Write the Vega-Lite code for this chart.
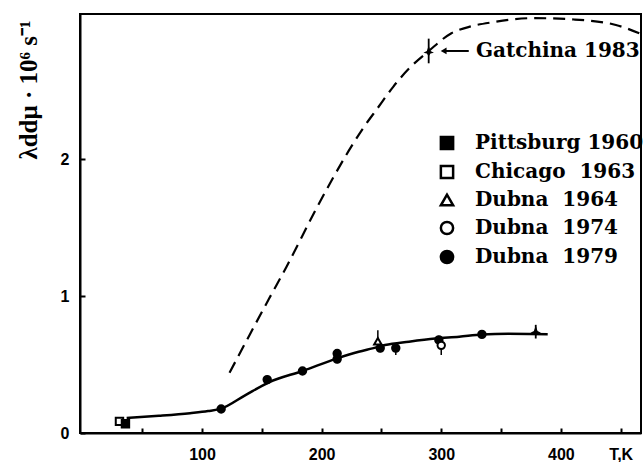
{
  "$schema": "https://vega.github.io/schema/vega-lite/v6.json",
  "width": 561,
  "height": 419,
  "autosize": {"type": "none"},
  "padding": {"left": 80, "top": 14, "right": 2, "bottom": 29},
  "background": "white",
  "config": {
    "view": {"stroke": "black", "strokeWidth": 2},
    "axis": {
      "domainColor": "black", "domainWidth": 2, "tickColor": "black", "tickWidth": 2,
      "tickSize": -5, "grid": false, "labelFont": "Liberation Sans", "labelFontWeight": "bold",
      "labelFontSize": 16, "labelColor": "black"
    },
    "legend": {
      "orient": "none", "legendX": 357, "legendY": 119, "padding": 0, "labelLimit": 400,
      "labelFont": "DejaVu Serif", "labelFontWeight": "bold", "labelFontSize": 20, "labelColor": "black",
      "symbolSize": 150, "symbolStrokeWidth": 2.5, "symbolStrokeColor": "black", "rowPadding": 5, "labelOffset": 18
    }
  },
  "datasets": {
    "upper": [
      {"T": 123, "lam": 0.44}, {"T": 140, "lam": 0.72}, {"T": 156, "lam": 0.98}, {"T": 171, "lam": 1.22},
      {"T": 195, "lam": 1.63}, {"T": 210, "lam": 1.87}, {"T": 222.6, "lam": 2.06}, {"T": 235, "lam": 2.23},
      {"T": 246.6, "lam": 2.37}, {"T": 260, "lam": 2.53}, {"T": 274, "lam": 2.67}, {"T": 289.6, "lam": 2.79},
      {"T": 308.5, "lam": 2.92}, {"T": 325, "lam": 2.97}, {"T": 343, "lam": 3.0}, {"T": 377, "lam": 3.03},
      {"T": 411, "lam": 3.02}, {"T": 446, "lam": 2.98}, {"T": 468, "lam": 2.91}
    ],
    "lower": [
      {"T": 37, "lam": 0.11}, {"T": 64, "lam": 0.126}, {"T": 90, "lam": 0.145}, {"T": 105, "lam": 0.16},
      {"T": 116, "lam": 0.178}, {"T": 136, "lam": 0.275}, {"T": 156, "lam": 0.37}, {"T": 184, "lam": 0.453},
      {"T": 213, "lam": 0.545}, {"T": 231, "lam": 0.593}, {"T": 242.5, "lam": 0.618}, {"T": 253, "lam": 0.642},
      {"T": 273, "lam": 0.667}, {"T": 295, "lam": 0.69}, {"T": 315, "lam": 0.703}, {"T": 334, "lam": 0.72},
      {"T": 356, "lam": 0.724}, {"T": 389, "lam": 0.722}
    ],
    "points": [
      {"source": "Chicago\u00a0 1963", "T": 31, "lam": 0.085},
      {"source": "Pittsburg 1960", "T": 36, "lam": 0.068},
      {"source": "Dubna\u00a0 1979", "T": 116, "lam": 0.175, "lo": 0.15, "hi": 0.2},
      {"source": "Dubna\u00a0 1979", "T": 154.5, "lam": 0.39, "lo": 0.36, "hi": 0.42},
      {"source": "Dubna\u00a0 1979", "T": 184, "lam": 0.453, "lo": 0.43, "hi": 0.48},
      {"source": "Dubna\u00a0 1979", "T": 213, "lam": 0.58, "lo": 0.55, "hi": 0.61},
      {"source": "Dubna\u00a0 1979", "T": 213, "lam": 0.54, "lo": 0.51, "hi": 0.57},
      {"source": "Dubna\u00a0 1979", "T": 249, "lam": 0.62, "lo": 0.59, "hi": 0.65},
      {"source": "Dubna\u00a0 1979", "T": 262, "lam": 0.62, "lo": 0.57, "hi": 0.65},
      {"source": "Dubna\u00a0 1979", "T": 298, "lam": 0.68, "lo": 0.64, "hi": 0.71},
      {"source": "Dubna\u00a0 1979", "T": 334, "lam": 0.72, "lo": 0.7, "hi": 0.74},
      {"source": "Dubna\u00a0 1964", "T": 247, "lam": 0.67, "lo": 0.6, "hi": 0.75},
      {"source": "Dubna\u00a0 1974", "T": 300, "lam": 0.64, "lo": 0.57, "hi": 0.7}
    ],
    "extra": [
      {"T": 289.5, "lam": 2.79, "lo": 2.7, "hi": 2.88},
      {"T": 379, "lam": 0.745, "lo": 0.69, "hi": 0.79}
    ],
    "note": [
      {"T": 302, "T2": 323, "lam": 2.79, "text": "Gatchina 1983", "TT": 329}
    ]
  },
  "encoding": {
    "x": {"field": "T", "type": "quantitative", "scale": {"domain": [-2, 467], "nice": false, "zero": false},
      "axis": {"title": null, "values": [50, 100, 150, 200, 250, 300, 350, 400, 450], "labelPadding": 18,
        "labelExpr": "datum.value == 450 ? 'T,K' : (datum.value % 100 == 0 ? datum.label : '')"}},
    "y": {"field": "lam", "type": "quantitative", "scale": {"domain": [0, 3.06], "nice": false},
      "axis": {"values": [0, 1, 2], "labelPadding": 16, "title": "λddμ · 10⁶ s⁻¹",
        "titleFont": "Liberation Serif", "titleFontWeight": "bold", "titleFontSize": 25, "titleColor": "black",
        "titleAngle": 270, "titleAlign": "right", "titleBaseline": "alphabetic", "titleX": -44, "titleY": 6}}
  },
  "layer": [
    {"data": {"name": "upper"}, "mark": {"type": "line", "color": "black", "strokeWidth": 2.2, "strokeDash": [12, 7], "interpolate": "monotone"}, "encoding": {}},
    {"data": {"name": "lower"}, "mark": {"type": "line", "color": "black", "strokeWidth": 2.5, "interpolate": "monotone"}, "encoding": {}},
    {"data": {"name": "points"}, "transform": [{"filter": "isValid(datum.lo)"}],
      "mark": {"type": "rule", "color": "black", "strokeWidth": 1.5},
      "encoding": {"y": {"field": "lo", "type": "quantitative"}, "y2": {"field": "hi"}}},
    {"data": {"name": "extra"}, "mark": {"type": "rule", "color": "black", "strokeWidth": 1.8},
      "encoding": {"y": {"field": "lo", "type": "quantitative"}, "y2": {"field": "hi"}}},
    {"data": {"name": "points"},
      "mark": {"type": "point", "filled": true, "strokeWidth": 2, "size": 55, "opacity": 1},
      "encoding": {
        "shape": {"field": "source", "type": "nominal",
          "scale": {"domain": ["Pittsburg 1960", "Chicago\u00a0 1963", "Dubna\u00a0 1964", "Dubna\u00a0 1974", "Dubna\u00a0 1979"],
            "range": ["square", "square", "triangle-up", "circle", "circle"]},
          "legend": {"title": null}},
        "fill": {"field": "source", "type": "nominal",
          "scale": {"domain": ["Pittsburg 1960", "Chicago\u00a0 1963", "Dubna\u00a0 1964", "Dubna\u00a0 1974", "Dubna\u00a0 1979"],
            "range": ["black", "white", "white", "white", "black"]},
          "legend": {"title": null}},
        "stroke": {"field": "source", "type": "nominal",
          "scale": {"domain": ["Pittsburg 1960", "Chicago\u00a0 1963", "Dubna\u00a0 1964", "Dubna\u00a0 1974", "Dubna\u00a0 1979"],
            "range": ["black", "black", "black", "black", "black"]},
          "legend": {"title": null}}
      }},
    {"data": {"name": "extra"},
      "mark": {"type": "point", "filled": true, "color": "black", "size": 110, "opacity": 1,
        "shape": "M0,-1L0.35,0L1,0.35L0.35,0.5L0,1L-0.35,0.5L-1,0.35L-0.35,0Z"},
      "encoding": {}},
    {"data": {"name": "note"}, "mark": {"type": "rule", "color": "black", "strokeWidth": 2},
      "encoding": {"x2": {"field": "T2"}}},
    {"data": {"name": "note"}, "mark": {"type": "point", "shape": "triangle-left", "filled": true, "color": "black", "size": 45, "opacity": 1},
      "encoding": {"x": {"field": "T", "type": "quantitative"}}},
    {"data": {"name": "note"}, "mark": {"type": "text", "align": "left", "baseline": "middle", "font": "DejaVu Serif", "fontWeight": "bold", "fontSize": 20, "color": "black"},
      "encoding": {"x": {"field": "TT", "type": "quantitative"}, "text": {"field": "text"}}}
  ]
}
